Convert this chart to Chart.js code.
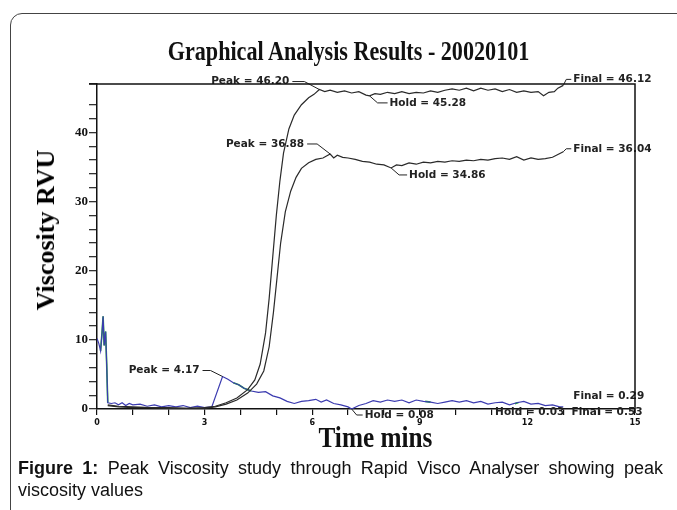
<!DOCTYPE html>
<html>
<head>
<meta charset="utf-8">
<script src="https://cdn.jsdelivr.net/npm/chart.js@4/dist/chart.umd.min.js"></script>
<style>
  body { margin: 0; background: #fff; }
  #page { position: relative; width: 677px; height: 510px; overflow: hidden; }
  #frame { position: absolute; left: 10px; top: 13px; width: 720px; height: 540px;
           border: 1.5px solid #444; border-radius: 12px; }
  #chart { position: absolute; left: 0; top: 0; }
  #title { position: absolute; left: 0; width: 698px; top: 36px; text-align: center;
           font: bold 27px "Liberation Serif", serif; color: #111; }
  #title span, #xlabel span { display: inline-block; transform: scaleX(0.82); }
  #xlabel { position: absolute; left: 0; width: 750px; top: 421px; text-align: center;
            font: bold 29px "Liberation Serif", serif; color: #111; }
  #xlabel span { transform: scaleX(0.87); }
  #ylabel { position: absolute; left: 46px; top: 230px; white-space: nowrap;
            transform: translate(-50%, -50%) rotate(-90deg);
            font: bold 26px "Liberation Serif", serif; color: #000; }
  #caption { position: absolute; left: 18px; top: 457px; width: 645px;
             font: 18px "Liberation Sans", Arial, sans-serif; line-height: 22px; color: #111; }
  #caption .l1 { text-align: justify; text-align-last: justify; }
</style>
</head>
<body>
<div id="page">
  <div id="frame"></div>
  <canvas id="chart" width="677" height="510"></canvas>
  <div id="title"><span>Graphical Analysis Results - 20020101</span></div>
  <div id="ylabel">Viscosity RVU</div>
  <div id="xlabel"><span>Time mins</span></div>
  <div id="caption">
    <div class="l1"><b>Figure 1:</b> Peak Viscosity study through Rapid Visco Analyser showing peak</div>
    <div>viscosity values</div>
  </div>
</div>
<script>
// sample A (upper black trace)
const timeA = [0.3, 0.6, 1.0, 1.5, 2.0, 2.5, 3.0, 3.3, 3.6, 3.9, 4.2, 4.4, 4.55, 4.7, 4.8, 4.9, 5.0, 5.1, 5.2, 5.35,
  5.5, 5.7, 5.9, 6.05, 6.2, 6.35, 6.5, 6.7, 6.9, 7.1, 7.3, 7.5, 7.6, 7.75, 7.9, 8.1, 8.3, 8.5, 8.7, 8.9,
  9.1, 9.3, 9.5, 9.7, 9.9, 10.1, 10.3, 10.5, 10.7, 10.9, 11.1, 11.3, 11.5, 11.7, 11.9, 12.1, 12.3, 12.45, 12.6, 12.75,
  12.85, 13.0];
const viscA = [0.6, 0.4, 0.3, 0.2, 0.2, 0.1, 0.2, 0.4, 0.9, 1.6, 2.8, 4.2, 6.5, 11, 16, 22, 28, 33, 37, 40.5,
  42.5, 44, 45, 45.5, 46.2, 45.9, 46.1, 45.8, 46.0, 45.7, 45.9, 45.4, 45.28, 45.6, 45.5, 45.8, 45.6, 45.9, 45.6, 45.8,
  45.7, 46.0, 45.8, 46.1, 46.3, 46.1, 46.4, 46.0, 46.4, 46.1, 46.3, 45.9, 46.2, 45.8, 46.0, 45.8, 45.9, 45.3, 45.8, 45.9,
  46.4, 46.8];

// sample B (lower black trace)
const timeB = [0.3, 0.6, 1.0, 1.5, 2.0, 2.5, 3.0, 3.3, 3.6, 3.9, 4.2, 4.45, 4.65, 4.8, 4.92, 5.02, 5.12, 5.25, 5.4, 5.55,
  5.7, 5.9, 6.1, 6.3, 6.5, 6.6, 6.7, 6.85, 7.0, 7.2, 7.4, 7.6, 7.8, 8.0, 8.2, 8.35, 8.5, 8.7, 8.9, 9.1,
  9.3, 9.5, 9.7, 9.9, 10.1, 10.3, 10.5, 10.7, 10.9, 11.1, 11.3, 11.5, 11.7, 11.9, 12.1, 12.3, 12.5, 12.7, 12.85, 13.0];
const viscB = [0.5, 0.3, 0.2, 0.2, 0.1, 0.1, 0.1, 0.3, 0.7, 1.3, 2.3, 3.6, 5.5, 9, 14, 19, 24, 28.5, 31.5, 33.5,
  34.8, 35.6, 36.1, 36.3, 36.88, 36.3, 36.7, 36.4, 36.3, 36.1, 35.8, 35.7, 35.4, 35.3, 34.86, 35.3, 35.2, 35.6, 35.4, 35.7,
  35.6, 35.8, 35.7, 35.9, 35.8, 36.0, 35.9, 36.1, 36.0, 36.2, 36.3, 36.1, 36.5, 36.0, 36.3, 36.1, 36.2, 36.4, 36.8, 37.2];

// sample C (blue trace)
const timeC = [0.0, 0.05, 0.1, 0.14, 0.17, 0.2, 0.24, 0.27, 0.3, 0.4, 0.5, 0.6, 0.7, 0.8, 0.9, 1.0, 1.2, 1.4, 1.6, 1.8,
  2.0, 2.2, 2.4, 2.6, 2.8, 3.0, 3.2, 3.5, 3.65, 3.8, 3.95, 4.1, 4.3, 4.5, 4.7, 4.9, 5.1, 5.3, 5.5, 5.7,
  5.9, 6.1, 6.25, 6.4, 6.6, 6.8, 7.0, 7.1, 7.3, 7.5, 7.7, 7.9, 8.1, 8.3, 8.5, 8.7, 8.9, 9.1, 9.3, 9.5,
  9.7, 9.9, 10.1, 10.3, 10.5, 10.7, 10.9, 11.1, 11.3, 11.5, 11.7, 11.9, 12.1, 12.3, 12.5, 12.7, 12.9, 13.0];
const viscC = [10.2, 9.5, 8.4, 11.0, 13.4, 9.2, 11.2, 6.5, 0.9, 0.8, 0.9, 0.6, 0.9, 0.5, 0.8, 0.6, 0.7, 0.4, 0.6, 0.3,
  0.5, 0.3, 0.5, 0.2, 0.4, 0.2, 0.3, 4.7, 4.3, 3.8, 3.5, 3.0, 2.6, 2.4, 2.5, 1.9, 1.6, 1.1, 0.8, 1.1,
  1.2, 1.4, 1.0, 1.3, 0.8, 0.6, 0.3, 0.0, 0.5, 0.8, 1.2, 1.0, 1.3, 1.1, 1.3, 0.9, 1.3, 1.1, 1.0, 0.8,
  1.0, 1.2, 1.0, 1.2, 0.9, 1.1, 0.7, 0.9, 1.0, 0.6, 0.9, 1.1, 0.7, 0.8, 0.5, 0.6, 0.3, 0.3];

// parts of the trace that show green (null value = gap)
const timeGreen = [0.1, 0.14, 0.17, 0.2, 0.24, 0.27, 0.3, 0.35, 3.8, 3.95, 4.1, 4.3, 4.4, 9.15, 9.3, 9.4, 11.65, 11.75];
const viscGreen = [8.4, 11.0, 13.4, 9.2, 11.2, 6.5, 0.9, null, 3.8, 3.5, 3.0, 2.6, null, 1.1, 1.0, null, 0.75, 0.95];

// peak / hold / final readouts
const annoText = ["Peak = 46.20", "Hold = 45.28", "Final = 46.12", "Peak = 36.88", "Hold = 34.86",
  "Final = 36.04", "Peak = 4.17", "Hold = 0.08", "Final = 0.29"];
const annoTime = [6.2, 7.6, 13.0, 6.5, 8.2, 13.0, 3.5, 7.1, 13.0];
const annoVisc = [46.2, 45.28, 46.8, 36.88, 34.86, 37.2, 4.7, 0.0, 0.3];

const xTicks = [0, 3, 6, 9, 12, 15];
const yTicks = [0, 10, 20, 30, 40];

function pairs(xs, ys) {
  return xs.map((x, i) => ({ x: x, y: ys[i] }));
}

// leader line offsets (px) and text placement for each readout
const leaders = [
  { path: [[0, 0], [-15, -8], [-27, -8]], side: "right" },
  { path: [[0, 0], [8, 7], [18, 7]], side: "left" },
  { path: [[0, 0], [3, -6], [8, -6]], side: "left" },
  { path: [[0, 0], [-13, -10], [-23, -10]], side: "right" },
  { path: [[0, 0], [8, 7], [16, 7]], side: "left" },
  { path: [[0, 0], [3, -3], [8, -3]], side: "left" },
  { path: [[0, 0], [-12, -6], [-20, -6]], side: "right" },
  { path: [[0, 0], [5, 6], [11, 6]], side: "left" },
  { path: [[8, -11]], side: "left" }
];

const readouts = {
  id: "readouts",
  afterDatasetsDraw(chart) {
    const ctx = chart.ctx;
    const xs = chart.scales.x, ys = chart.scales.y;
    const area = chart.chartArea;
    ctx.save();
    ctx.font = "bold 10.5px 'DejaVu Sans', sans-serif";
    ctx.textBaseline = "middle";
    ctx.strokeStyle = "#222";
    ctx.fillStyle = "#222";
    ctx.lineWidth = 1;
    annoText.forEach((txt, i) => {
      const px = xs.getPixelForValue(annoTime[i]);
      const py = ys.getPixelForValue(annoVisc[i]);
      const l = leaders[i];
      if (l.path.length > 1) {
        ctx.beginPath();
        l.path.forEach((p, k) => {
          if (k === 0) ctx.moveTo(px + p[0], py + p[1]);
          else ctx.lineTo(px + p[0], py + p[1]);
        });
        ctx.stroke();
      }
      const end = l.path[l.path.length - 1];
      ctx.textAlign = l.side;
      ctx.fillText(txt, px + end[0] + (l.side === "left" ? 2 : -3), py + end[1]);
    });
    // clutter of readouts along the base line, right side
    ctx.textAlign = "left";
    ctx.fillText("Hold = 0.03  Final = 0.53", xs.getPixelForValue(11.1), ys.getPixelForValue(0) + 3);

    // frame: top and right edges
    ctx.strokeStyle = "#111";
    ctx.lineWidth = 1.5;
    ctx.beginPath();
    ctx.moveTo(area.left - 8, area.top);
    ctx.lineTo(area.right, area.top);
    ctx.lineTo(area.right, area.bottom + 4);
    ctx.stroke();
    ctx.restore();
  }
};

new Chart(document.getElementById("chart").getContext("2d"), {
  type: "line",
  data: {
    datasets: [
      { label: "A", data: pairs(timeA, viscA), borderColor: "#2a2a2a", borderWidth: 1.2 },
      { label: "B", data: pairs(timeB, viscB), borderColor: "#2a2a2a", borderWidth: 1.2 },
      { label: "C", data: pairs(timeC, viscC), borderColor: "#3b3bb0", borderWidth: 1.2 },
      { label: "C green", data: pairs(timeGreen, viscGreen), borderColor: "#22b030", borderWidth: 1.6, spanGaps: false }
    ]
  },
  options: {
    responsive: false,
    animation: false,
    events: [],
    layout: { padding: { left: 0, top: 84, right: 42, bottom: 0 } },
    elements: { point: { radius: 0 }, line: { tension: 0 } },
    plugins: { legend: { display: false }, tooltip: { enabled: false } },
    scales: {
      x: {
        type: "linear",
        min: 0,
        max: 15,
        afterFit: s => { s.height = 101; },
        border: { display: true, color: "#111", width: 1.5 },
        grid: { drawOnChartArea: false, drawTicks: true, tickLength: 6, color: "#111", lineWidth: 1.2 },
        ticks: {
          stepSize: 1,
          autoSkip: false,
          maxRotation: 0,
          padding: 3,
          color: "#111",
          font: { family: "DejaVu Sans", size: 8, weight: "bold" },
          callback: v => (xTicks.includes(v) ? String(v) : "")
        }
      },
      y: {
        type: "linear",
        min: 0,
        max: 47,
        afterFit: s => { s.width = 97; },
        border: { display: true, color: "#111", width: 1.5 },
        grid: { drawOnChartArea: false, drawTicks: true, tickLength: 8, color: "#333", lineWidth: 1.3 },
        ticks: {
          stepSize: 2,
          autoSkip: false,
          padding: 1,
          color: "#111",
          font: { family: "Liberation Serif", size: 13, weight: "bold" },
          callback: v => (yTicks.includes(v) ? String(v) : "")
        }
      }
    }
  },
  plugins: [readouts]
});
</script>
</body>
</html>
